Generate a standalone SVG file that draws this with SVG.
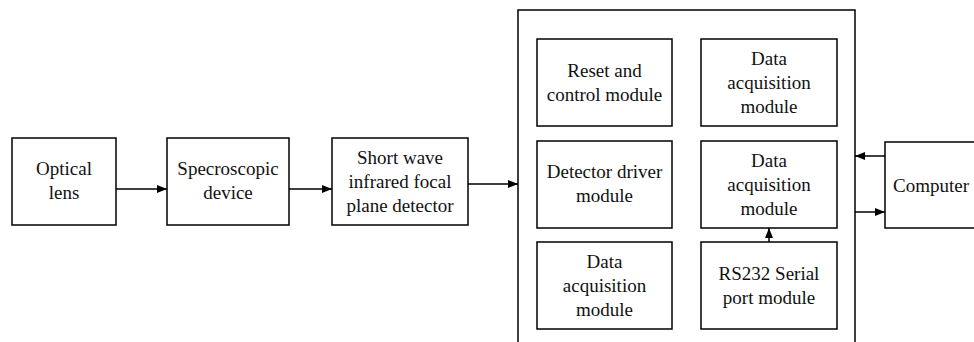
<svg xmlns="http://www.w3.org/2000/svg" width="974" height="342" viewBox="0 0 974 342">
<style>
.b{fill:#fff;stroke:#000;stroke-width:1.5}
.t{font-family:"Liberation Serif","Times New Roman",serif;font-size:19px;fill:#111}
.c{stroke:#000;stroke-width:1.5;fill:none}
</style>
<defs>
<marker id="a" markerWidth="10" markerHeight="8" refX="10" refY="4" orient="auto" markerUnits="userSpaceOnUse">
<path d="M0,0L10,4L0,8z" fill="#000"/>
</marker>
</defs>
<rect width="974" height="342" fill="#fff"/>
<g id="container"><rect class="b" x="518" y="10" width="337" height="340"/></g>
<g id="optical" text-anchor="middle"><rect class="b" x="12" y="138" width="104" height="87"/><text class="t" style="font-family:'Liberation Serif',serif" x="64" y="175">Optical</text><text class="t" style="font-family:'Liberation Serif',serif" x="64" y="199">lens</text></g>
<g id="spectro" text-anchor="middle"><rect class="b" x="167" y="138" width="122" height="87"/><text class="t" style="font-family:'Liberation Serif',serif" x="228" y="175">Specroscopic</text><text class="t" style="font-family:'Liberation Serif',serif" x="228" y="199">device</text></g>
<g id="detector" text-anchor="middle"><rect class="b" x="332" y="138" width="136" height="87"/><text class="t" style="font-family:'Liberation Serif',serif" x="400" y="164">Short wave</text><text class="t" style="font-family:'Liberation Serif',serif" x="400" y="188">infrared focal</text><text class="t" style="font-family:'Liberation Serif',serif" x="400" y="212">plane detector</text></g>
<g id="reset" text-anchor="middle"><rect class="b" x="537" y="39" width="135" height="87"/><text class="t" style="font-family:'Liberation Serif',serif" x="604.5" y="77">Reset and</text><text class="t" style="font-family:'Liberation Serif',serif" x="604.5" y="101">control module</text></g>
<g id="driver" text-anchor="middle"><rect class="b" x="537" y="141" width="135" height="87"/><text class="t" style="font-family:'Liberation Serif',serif" x="604.5" y="178">Detector driver</text><text class="t" style="font-family:'Liberation Serif',serif" x="604.5" y="202">module</text></g>
<g id="daq3" text-anchor="middle"><rect class="b" x="537" y="242" width="135" height="87"/><text class="t" style="font-family:'Liberation Serif',serif" x="604.5" y="268">Data</text><text class="t" style="font-family:'Liberation Serif',serif" x="604.5" y="292">acquisition</text><text class="t" style="font-family:'Liberation Serif',serif" x="604.5" y="316">module</text></g>
<g id="daq1" text-anchor="middle"><rect class="b" x="701" y="39" width="136" height="87"/><text class="t" style="font-family:'Liberation Serif',serif" x="769" y="65">Data</text><text class="t" style="font-family:'Liberation Serif',serif" x="769" y="89">acquisition</text><text class="t" style="font-family:'Liberation Serif',serif" x="769" y="113">module</text></g>
<g id="daq2" text-anchor="middle"><rect class="b" x="701" y="141" width="136" height="87"/><text class="t" style="font-family:'Liberation Serif',serif" x="769" y="167">Data</text><text class="t" style="font-family:'Liberation Serif',serif" x="769" y="191">acquisition</text><text class="t" style="font-family:'Liberation Serif',serif" x="769" y="215">module</text></g>
<g id="rs232" text-anchor="middle"><rect class="b" x="701" y="242" width="136" height="87"/><text class="t" style="font-family:'Liberation Serif',serif" x="769" y="280">RS232 Serial</text><text class="t" style="font-family:'Liberation Serif',serif" x="769" y="304">port module</text></g>
<g id="computer" text-anchor="middle"><rect class="b" x="885" y="142" width="100" height="86"/><text class="t" style="font-family:'Liberation Serif',serif" x="931" y="192">Computer</text></g>
<g id="connectors">
<line class="c" x1="116" y1="189" x2="167" y2="189" marker-end="url(#a)"/>
<line class="c" x1="289" y1="189" x2="332" y2="189" marker-end="url(#a)"/>
<line class="c" x1="468" y1="184" x2="518" y2="184" marker-end="url(#a)"/>
<line class="c" x1="769" y1="242" x2="769" y2="228" marker-end="url(#a)"/>
<line class="c" x1="885" y1="156" x2="855" y2="156" marker-end="url(#a)"/>
<line class="c" x1="855" y1="212" x2="885" y2="212" marker-end="url(#a)"/>
</g>
</svg>
